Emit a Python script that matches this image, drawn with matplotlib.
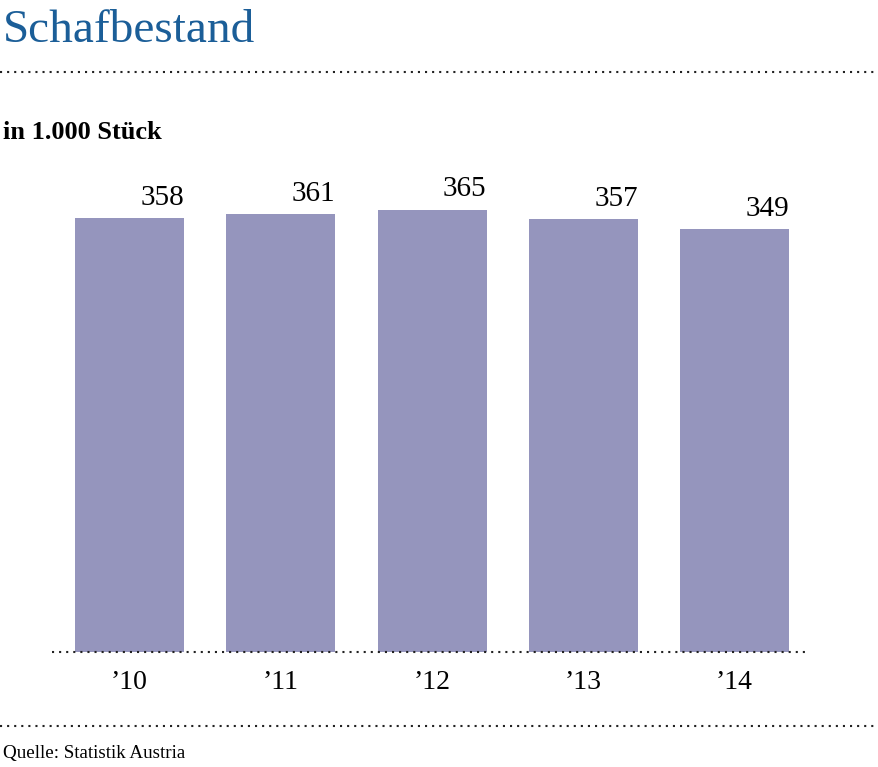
import matplotlib
matplotlib.use("Agg")
import matplotlib.pyplot as plt
from matplotlib.lines import Line2D

# ── Data ───────────────────────────────────────────────────────────────────────
years  = ["\u201910", "\u201911", "\u201912", "\u201913", "\u201914"]
values = [358, 361, 365, 357, 349]

W, H = 879, 767
BAR_COLOR = "#9595bd"
TITLE_BLUE = "#1b5e98"
SERIF = ["Liberation Serif", "DejaVu Serif"]
DOTS = (0, (1, 2.4))

fig = plt.figure(figsize=(W / 100, H / 100), dpi=100)

# axes placed in pixel coordinates
left_px, right_px = 52, 808
bottom_px, top_px = 652, 167
ax = fig.add_axes([left_px / W, 1 - bottom_px / H,
                   (right_px - left_px) / W, (bottom_px - top_px) / H])

x = list(range(len(values)))
step_px = 151.25
x0 = -(129.5 - left_px) / step_px
ax.bar(x, values, width=109 / step_px, color=BAR_COLOR, zorder=1)
ax.set_xlim(x0, x0 + (right_px - left_px) / step_px)
ax.set_ylim(0, (bottom_px - top_px) / 1.212)

for xi, v in zip(x, values):
    ax.annotate(str(v), (xi + 109 / step_px / 2, v), xytext=(0, 9.5),
                textcoords="offset points", ha="right", va="baseline",
                fontsize=21, family=SERIF, color="black")

# dotted baseline over the bars
ax.axhline(0, color="#222222", lw=1.5, ls=DOTS, zorder=3, clip_on=False)

for s in ax.spines.values():
    s.set_visible(False)
ax.set_yticks([])
ax.set_xticks(x)
ax.set_xticklabels(years, fontsize=20, family=SERIF)
ax.tick_params(axis="x", length=0, pad=13)

# ── Header / footer ────────────────────────────────────────────────────────────
fig.text(3 / W, 1 - 42 / H, "Schafbestand", fontsize=34, family=SERIF,
         color=TITLE_BLUE, ha="left", va="baseline")
fig.text(3 / W, 1 - 139 / H, "in 1.000 Stück", fontsize=19, family=SERIF,
         weight="bold", ha="left", va="baseline")
fig.text(3 / W, 1 - 758 / H, "Quelle: Statistik Austria", fontsize=13.7,
         family=SERIF, ha="left", va="baseline")

for ypx in (72, 726):
    fig.add_artist(Line2D([0, 1], [1 - ypx / H] * 2, transform=fig.transFigure,
                          color="#222222", lw=1.5, ls=DOTS))

fig.savefig("out.png", dpi=100)
